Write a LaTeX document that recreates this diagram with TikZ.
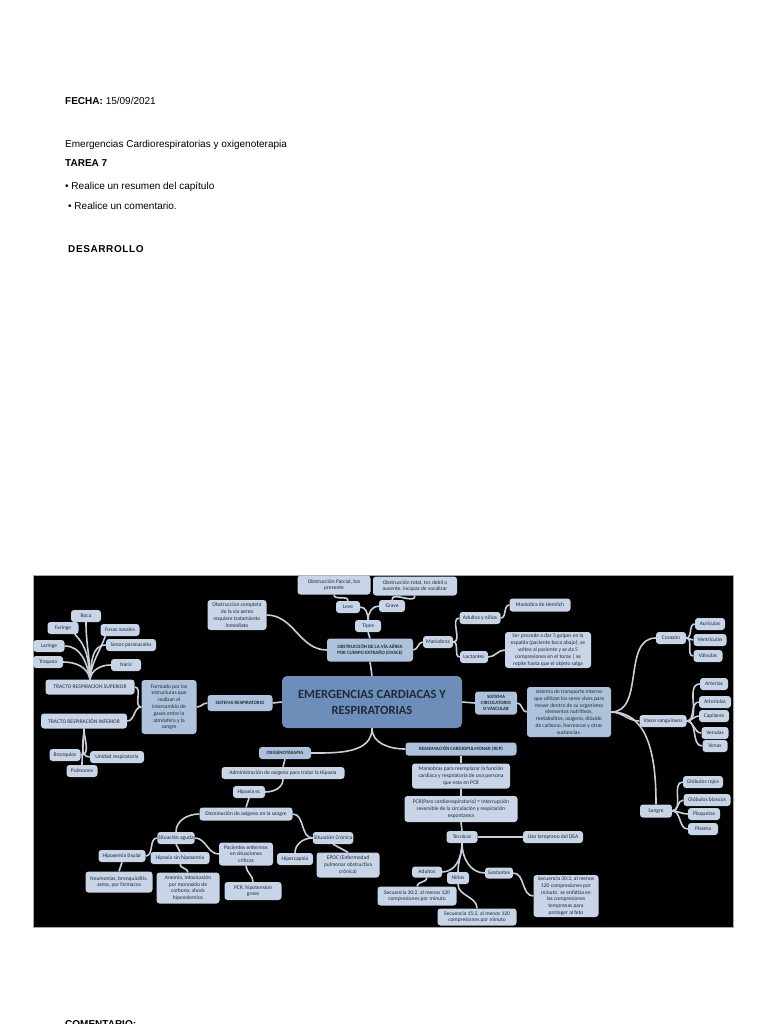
\documentclass[tikz,border=0pt]{standalone}
\usepackage{fontspec}
\setmainfont{Liberation Sans}
\newfontfamily\mapfont{Carlito}
\usetikzlibrary{backgrounds}
\definecolor{nodefill}{HTML}{C7D5E6}
\definecolor{lvlfill}{HTML}{AEC3DB}
\definecolor{mainfill}{HTML}{6C8EB8}
\definecolor{nodetext}{HTML}{1E2A38}
\definecolor{linecol}{HTML}{C8D0DA}
\tikzset{
  nb/.style={fill=nodefill, rounded corners=3pt, text=nodetext, font=\mapfont\fontsize{5.5}{6.8}\selectfont, align=center, inner sep=1pt, minimum height=12pt},
  lv/.style={nb, fill=lvlfill, font=\mapfont\bfseries\fontsize{4.9}{6}\selectfont},
  sz/.style 2 args={minimum width=#1pt, minimum height=#2pt},
  conn/.style={draw=linecol, line width=1.6pt},
  hdr/.style={anchor=base west, font=\fontsize{10}{12}\selectfont, inner sep=0pt},
}
\begin{document}
\begin{tikzpicture}[x=1pt,y=-1pt]
\path[use as bounding box] (0,0) rectangle (768,1024);

% header texts
\node[hdr] (fecha) at (65,105) {\textbf{FECHA:} 15/09/2021};
\node[hdr] (tema) at (65,148) {Emergencias Cardiorespiratorias y oxigenoterapia};
\node[hdr] (tarea) at (65,167) {\textbf{TAREA 7}};
\node[hdr] (b1) at (65,190) {• Realice un resumen del capítulo};
\node[hdr] (b2) at (68,210) {• Realice un comentario.};
\node[hdr] (des) at (68,252) {\addfontfeature{LetterSpace=6}\textbf{DESARROLLO}};
\node[hdr] (com) at (65,1027) {\textbf{COMENTARIO:}};

% ---------------- mind map nodes ----------------
\node[nb,sz={180}{52},fill=mainfill,rounded corners=5pt,font=\mapfont\bfseries\fontsize{12.5}{16}\selectfont] (main) at (372,702) {EMERGENCIAS CARDIACAS Y\\RESPIRATORIAS};

% respiratory
\node[lv,sz={65}{16}] (sr) at (240,703) {SISTEMA RESPIRATORIO};
\node[nb,fill=lvlfill,sz={55}{54}] (fo) at (169,707) {Formado por las\\estructuras que\\realizan el\\intercambio de\\gases entre la\\atmósfera y la\\sangre};
\node[nb,sz={89}{15}] (trs) at (90,687) {TRACTO RESPIRACION SUPERIOR};
\node[nb,sz={86}{15}] (tri) at (84,721) {TRACTO RESPIRACIÓN INFERIOR};
\node[nb,sz={30}{12}] (boca) at (86,616) {Boca};
\node[nb,sz={31}{12}] (far) at (63,628) {Faringe};
\node[nb,sz={39}{12}] (fos) at (120,630) {Fosas nasales};
\node[nb,sz={50}{12}] (sen) at (131,645) {Senos paranasales};
\node[nb,sz={31}{12}] (lar) at (49,646) {Laringe};
\node[nb,sz={30}{12}] (tra) at (48,662) {Traquea};
\node[nb,sz={30}{12}] (nar) at (126,665) {Nariz};
\node[nb,sz={31}{12}] (bro) at (65,755) {Bronquios};
\node[nb,sz={54}{12}] (uni) at (117,757) {Unidad respiratoria};
\node[nb,sz={31}{12}] (pul) at (82,771) {Pulmones};

% OVACE
\node[lv,sz={86}{23}] (ov) at (370,650) {OBSTRUCCIÓN DE LA VÍA AÉREA\\POR CUERPO EXTRAÑO (OVACE)};
\node[nb,sz={26}{12}] (tip) at (368,626) {Tipos};
\node[nb,sz={24}{12}] (lev) at (348,607) {Leve};
\node[nb,sz={26}{12}] (gra) at (392,606) {Grave};
\node[nb,sz={73}{19}] (par) at (334,585) {Obstrucción Parcial, tos\\presente};
\node[nb,sz={84}{19}] (tot) at (415,586) {Obstrucción total, tos debil o\\ausente, incapaz de vocalizar};
\node[nb,sz={59}{30}] (ocm) at (237,615) {Obstruccion completa\\de la vía aerea\\requiere tratamiento\\inmediato};
\node[nb,sz={30}{12}] (man) at (438,642) {Maniobras};
\node[nb,sz={41}{12}] (ayn) at (480,618) {Adultos y niños};
\node[nb,sz={28}{12}] (lac) at (474,657) {Lactantes};
\node[nb,sz={61}{13}] (hem) at (540,605) {Maniobra de Hemlich};
\node[nb,sz={86}{36}] (ser) at (548,650) {Ser procede a dar 5 golpes en la\\espalda (paciente boca abajo), se\\voltea al paciente y se da 5\\compresiones en el torax | se\\repite hasta que el objeto salga};

% circulatory
\node[lv,sz={42}{23}] (sc) at (496,703) {SISTEMA\\CIRCULATORIO\\O VASCULAR};
\node[nb,fill=lvlfill,sz={84}{50}] (trp) at (569,712) {sistema de transporte interno\\que utilizan los seres vivos para\\mover dentro de su organismo\\elementos nutritivos,\\metabolitos, oxígeno, dióxido\\de carbono, hormonas y otras\\sustancias.};
\node[nb,sz={30}{12}] (cor) at (671,638) {Corazón};
\node[nb,sz={30}{12}] (aur) at (710,624) {Aurículas};
\node[nb,sz={33}{12}] (ven) at (710,640) {Ventriculas};
\node[nb,sz={29}{12}] (val) at (708,656) {Válvulas};
\node[nb,sz={47}{12}] (vas) at (663,721) {Vasos sanguíneos};
\node[nb,sz={28}{12}] (art) at (714,684) {Arterias};
\node[nb,sz={32}{12}] (atl) at (715,702) {Arteriolas};
\node[nb,sz={30}{12}] (cap) at (714,716) {Capilares};
\node[nb,sz={27}{12}] (vnl) at (715,733) {Venulas};
\node[nb,sz={25}{12}] (vna) at (715,746) {Venas};
\node[nb,sz={32}{13}] (san) at (656,811) {Sangre};
\node[nb,sz={40}{12}] (gro) at (703,782) {Glóbulos rojos};
\node[nb,sz={47}{12}] (gbl) at (707,800) {Glóbulos blancos};
\node[nb,sz={32}{12}] (plq) at (704,814) {Plaquetas};
\node[nb,sz={30}{12}] (pls) at (703,829) {Plasma};

% RCP
\node[lv,sz={111}{13}] (rcp) at (461,749) {REANIMACIÓN CARDIOPULMONAR (RCP)};
\node[nb,sz={98}{25}] (mre) at (461,776) {Maniobras para reemplazar la función\\cardiaca y respiratoria de una persona\\que esta en PCR};
\node[nb,sz={113}{26}] (pcr) at (461,809) {PCR(Paro cardiorespiratorio) = Interrupción\\reversible de la circulación y respiración\\espontanea};
\node[nb,sz={31}{12}] (tec) at (462,837) {Tecnicas};
\node[nb,sz={60}{12}] (dea) at (553,837) {Uso temprano del DEA};
\node[nb,sz={30}{11}] (adu) at (427,872) {Adultos};
\node[nb,sz={22}{12}] (nin) at (458,878) {Niños};
\node[nb,sz={28}{11}] (ges) at (499,873) {Gestantes};
\node[nb,sz={79}{19}] (sq1) at (417,896) {Secuencia 30:2, al menos 120\\compresiones por minuto};
\node[nb,sz={79}{17}] (sq2) at (477,917) {Secuencia 15:2, al menos 120\\compresiones por minuto};
\node[nb,sz={65}{42}] (sq3) at (566,896) {Secuencia 30:2, al menos\\120 compresiones por\\minuto. se enfatiza en\\las compresiones\\tempranas para\\proteger al feto};

% oxygen therapy
\node[lv,sz={52}{12}] (oxi) at (285,753) {OXIGENOTERAPIA};
\node[nb,sz={123}{12}] (adm) at (283,773) {Administración de oxigeno para tratar la Hipoxia};
\node[nb,sz={32}{12}] (hec) at (249,792) {Hipoxia ec};
\node[nb,sz={93}{13}] (dis) at (246,814) {Disminución de oxigeno en la sangre};
\node[nb,sz={34}{12}] (sag) at (176,838) {Situación aguda};
\node[nb,sz={47}{12}] (hti) at (122,856) {Hipoxemia tisular};
\node[nb,sz={59}{12}] (hsh) at (180,858) {Hipoxia sin hipoxemia};
\node[nb,sz={67}{21}] (neu) at (119,882) {Neumonias, bronquiolitis,\\asma, por farmacos};
\node[nb,sz={63}{31}] (ane) at (188,888) {Anemia, intoxicación\\por monoxido de\\carbono, shock\\hipovolemico};
\node[nb,sz={54}{23}] (pac) at (246,854) {Pacientes enfermos\\en situaciones\\criticas};
\node[nb,sz={57}{18}] (pch) at (253,891) {PCR, hipotension\\grave};
\node[nb,sz={40}{12}] (scr) at (333,838) {Situación Crónica};
\node[nb,sz={36}{12}] (hip) at (295,859) {Hipercapnia};
\node[nb,sz={63}{25}] (epo) at (348,865) {EPOC (Enfermedad\\pulmonar obstructiva\\crónica)};

% ---------------- background and connectors ----------------
\begin{pgfonlayer}{background}
\fill[white] (0,0) rectangle (768,1024);
\fill[black] (33,575) rectangle (733,927);
\draw[gray!70,line width=0.5pt] (33,575) rectangle (733,927);

% main branches
\draw[conn] (main.west) -- (sr.east);
\draw[conn] (main.north) -- (ov.south);
\draw[conn] (main.east) -- (sc.west);
\draw[conn] (main.south) to[out=-90,in=0] (oxi.east);
\draw[conn] (main.south) to[out=-90,in=180] (rcp.west);

% respiratory
\draw[conn] (sr.west) to[out=180,in=0] (fo.east);
\draw[conn] (fo.west) to[out=180,in=0] (trs.east);
\draw[conn] (fo.west) to[out=180,in=0] (tri.east);
\draw[conn] (trs.north) to[out=90,in=-90] (boca.south);
\draw[conn] (trs.north) to[out=95,in=-45] ([xshift=-4pt]far.south east);
\draw[conn] (trs.north) to[out=85,in=-110] ([xshift=5pt]fos.south west);
\draw[conn] (trs.north) to[out=85,in=180] (sen.west);
\draw[conn] (trs.north) to[out=100,in=0] (lar.east);
\draw[conn] (trs.north) to[out=100,in=0] (tra.east);
\draw[conn] (trs.north) to[out=80,in=180] (nar.west);
\draw[conn] (tri.south) to[out=-90,in=0] (bro.east);
\draw[conn] (tri.south) to[out=-90,in=180] (uni.west);
\draw[conn] (tri.south) to[out=-90,in=90] (pul.north);

% OVACE
\draw[conn] (ov.north) -- (tip.south);
\draw[conn] (ov.west) to[out=180,in=0] (ocm.east);
\draw[conn] (ov.east) to[out=0,in=180] (man.west);
\draw[conn] (tip.north) to[out=90,in=0] (lev.east);
\draw[conn] (tip.north) to[out=90,in=180] (gra.west);
\draw[conn] (lev.north) to[out=90,in=-90] (par.south);
\draw[conn] (gra.north) to[out=90,in=-90] (tot.south);
\draw[conn] (man.east) to[out=0,in=180] (ayn.west);
\draw[conn] (man.east) to[out=0,in=180] (lac.west);
\draw[conn] (ayn.east) to[out=0,in=180] (hem.west);
\draw[conn] (lac.east) to[out=0,in=180] (ser.west);

% circulatory
\draw[conn] (sc.east) to[out=0,in=180] (trp.west);
\draw[conn] (trp.east) to[out=0,in=180] (cor.west);
\draw[conn] (trp.east) to[out=0,in=180] (vas.west);
\draw[conn] (trp.east) to[out=0,in=90] (san.north);
\draw[conn] (cor.east) to[out=0,in=180] (aur.west);
\draw[conn] (cor.east) to[out=0,in=180] (ven.west);
\draw[conn] (cor.east) to[out=0,in=180] (val.west);
\draw[conn] (vas.east) to[out=0,in=180] (art.west);
\draw[conn] (vas.east) to[out=0,in=180] (atl.west);
\draw[conn] (vas.east) to[out=0,in=180] (cap.west);
\draw[conn] (vas.east) to[out=0,in=180] (vnl.west);
\draw[conn] (vas.east) to[out=0,in=180] (vna.west);
\draw[conn] (san.east) to[out=0,in=180] (gro.west);
\draw[conn] (san.east) to[out=0,in=180] (gbl.west);
\draw[conn] (san.east) to[out=0,in=180] (plq.west);
\draw[conn] (san.east) to[out=0,in=180] (pls.west);

% RCP
\draw[conn] (rcp.south) -- (mre.north);
\draw[conn] (mre.south) -- (pcr.north);
\draw[conn] (pcr.south) -- (tec.north);
\draw[conn] (tec.east) -- (dea.west);
\draw[conn] (tec.south) to[out=-90,in=0] (adu.east);
\draw[conn] (tec.south) to[out=-90,in=90] (nin.north);
\draw[conn] (tec.south) to[out=-90,in=180] (ges.west);
\draw[conn] (adu.south) to[out=-90,in=90] (sq1.north);
\draw[conn] (nin.south) to[out=-90,in=90] (sq2.north);
\draw[conn] (ges.east) to[out=0,in=180] (sq3.west);

% oxygen therapy
\draw[conn] (oxi.south) -- (adm.north);
\draw[conn] (adm.south) to[out=-90,in=0] (hec.east);
\draw[conn] (hec.south) -- (dis.north);
\draw[conn] (dis.west) to[out=180,in=90] (sag.north);
\draw[conn] (dis.east) to[out=0,in=180] (scr.west);
\draw[conn] (sag.west) to[out=180,in=0] (hti.east);
\draw[conn] (sag.south) -- (hsh.north);
\draw[conn] (sag.east) to[out=0,in=180] (pac.west);
\draw[conn] (hti.south) -- (neu.north);
\draw[conn] (hsh.south) to[out=-90,in=90] (ane.north);
\draw[conn] (pac.south) to[out=-90,in=90] (pch.north);
\draw[conn] (scr.west) to[out=180,in=90] (hip.north);
\draw[conn] (scr.south) -- (epo.north);
\end{pgfonlayer}
\end{tikzpicture}
\end{document}
